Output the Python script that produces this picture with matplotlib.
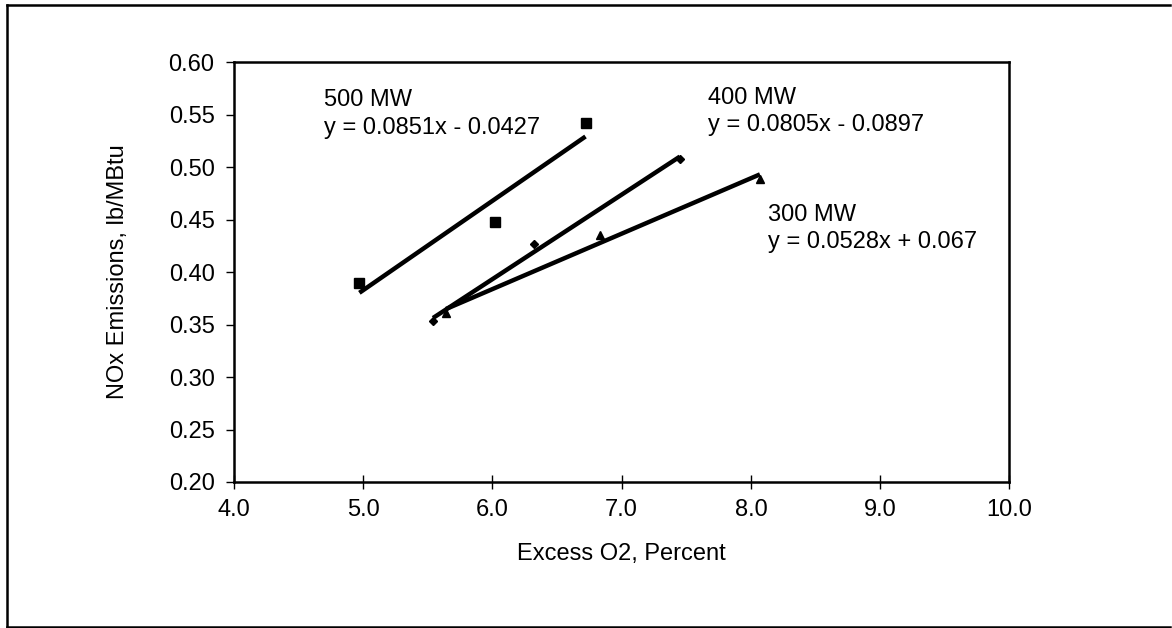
import matplotlib
matplotlib.use("Agg")
import numpy as np
import matplotlib.pyplot as plt
from matplotlib.lines import Line2D

plt.rcParams['font.family'] = ['Liberation Sans', 'DejaVu Sans']

# measured points, excess O2 (%) vs NOx (lb/MBtu)
o2_500 = [4.97, 6.02, 6.72]
nox_500 = [0.390, 0.448, 0.542]
o2_400 = [5.54, 6.32, 7.45]
nox_400 = [0.353, 0.427, 0.508]
o2_300 = [5.64, 6.83, 8.07]
nox_300 = [0.361, 0.435, 0.489]

# linear fits (slope, intercept)
fit_500 = (0.0851, -0.0427)
fit_400 = (0.0805, -0.0897)
fit_300 = (0.0528, 0.067)

x_ticks = [4.0, 5.0, 6.0, 7.0, 8.0, 9.0, 10.0]
y_ticks = [0.20, 0.25, 0.30, 0.35, 0.40, 0.45, 0.50, 0.55, 0.60]

fig = plt.figure(figsize=(11.72, 6.28), dpi=100)
ax = fig.add_axes([0.1997, 0.2325, 0.6615, 0.6685])

series = [
    (o2_500, nox_500, fit_500, 's', 6.5),
    (o2_400, nox_400, fit_400, 'D', 4.5),
    (o2_300, nox_300, fit_300, '^', 6),
]
for xs, ys, (m, b), mk, ms in series:
    ax.plot(xs, ys, linestyle='none', marker=mk, markersize=ms, color='black')
    xf = np.array([min(xs), max(xs)])
    ax.plot(xf, m * xf + b, color='black', lw=3.2, solid_capstyle='butt')

lbl = dict(fontsize=17, va='top', ha='left', linespacing=1.3)
ax.text(4.70, 0.574, "500 MW\ny = 0.0851x - 0.0427", **lbl)
ax.text(7.67, 0.576, "400 MW\ny = 0.0805x - 0.0897", **lbl)
ax.text(8.13, 0.465, "300 MW\ny = 0.0528x + 0.067", **lbl)

ax.set_xlim(4.0, 10.0)
ax.set_ylim(0.20, 0.60)
ax.set_xticks(x_ticks)
ax.set_yticks(y_ticks)
ax.set_xticklabels([f"{v:.1f}" for v in x_ticks])
ax.set_yticklabels([f"{v:.2f}" for v in y_ticks])
ax.tick_params(axis='x', direction='inout', length=10, width=1, pad=7, labelsize=17)
ax.tick_params(axis='y', direction='out', length=6, width=1, pad=8, labelsize=17)
for sp in ax.spines.values():
    sp.set_linewidth(1.8)
    sp.set_color('black')

ax.set_xlabel("Excess O2, Percent", fontsize=17)
ax.set_ylabel("NOx Emissions, lb/MBtu", fontsize=17)
ax.xaxis.set_label_coords(0.5, -0.145)
ax.yaxis.set_label_coords(-0.135, 0.5)

# outer frame around the chart
W, H = 1172, 628
fx = lambda px: px / W
fy = lambda py: 1 - py / H
for xs_, ys_ in [([7, 7], [5, 627]), ([7, 1170], [5, 5]), ([7, 1170], [627, 627])]:
    fig.add_artist(Line2D([fx(v) for v in xs_], [fy(v) for v in ys_],
                          color='black', lw=1.8, transform=fig.transFigure))

fig.savefig("out.png", dpi=100)
